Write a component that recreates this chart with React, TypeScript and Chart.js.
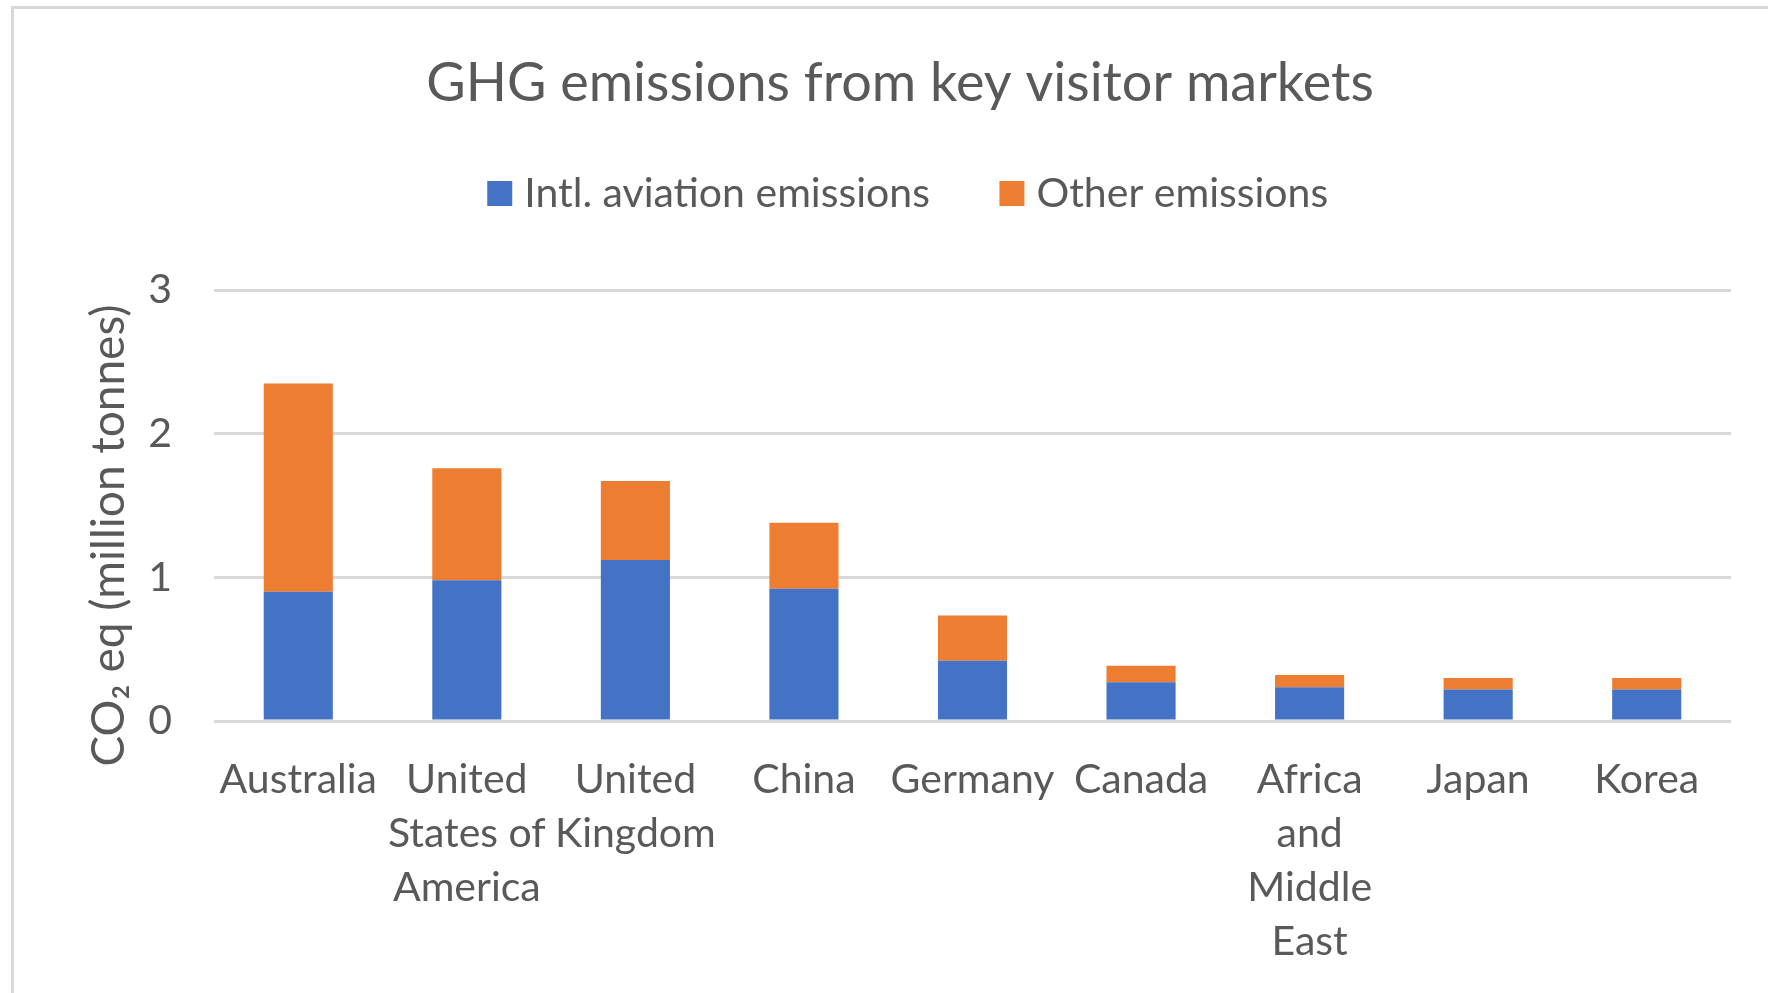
import React, { useEffect, useRef } from "react";
import { Chart, registerables } from "chart.js";

Chart.register(...registerables);

const categories: string[][] = [
  ["Australia"],
  ["United", "States of", "America"],
  ["United", "Kingdom"],
  ["China"],
  ["Germany"],
  ["Canada"],
  ["Africa", "and", "Middle", "East"],
  ["Japan"],
  ["Korea"],
];
const aviationEmissions = [0.9, 0.98, 1.12, 0.92, 0.42, 0.27, 0.235, 0.22, 0.22];
const otherEmissions = [1.45, 0.78, 0.55, 0.46, 0.315, 0.115, 0.085, 0.08, 0.08];
const seriesNames = ["Intl. aviation emissions", "Other emissions"];
const yTickValues = [0, 1, 2, 3];
const chartTitle = "GHG emissions from key visitor markets";
const yAxisTitle = "CO\u2082 eq (million tonnes)";

const FONT = "Lato, 'Noto Sans', sans-serif";
const TEXT = "#595959";

const legendSpacer = {
  id: "legendSpacer",
  beforeInit(chart: any) {
    const legend = chart.legend;
    if (!legend) return;
    const orig = legend.fit;
    legend.fit = function () {
      orig.bind(legend)();
      this.height += 66;
    };
  },
  afterLayout(chart: any) {
    const legend = chart.legend;
    if (!legend) return;
    legend.left += 12;
    legend.right += 12;
  },
};

const yTitlePlugin = {
  id: "yTitlePlugin",
  afterDraw(chart: any) {
    const { ctx, chartArea } = chart;
    ctx.save();
    ctx.translate(chartArea.left - 105, (chartArea.top + chartArea.bottom) / 2 + 30);
    ctx.rotate(-Math.PI / 2);
    ctx.font = `46px ${FONT}`;
    ctx.fillStyle = TEXT;
    ctx.textAlign = "center";
    ctx.textBaseline = "middle";
    ctx.fillText(yAxisTitle, 0, 0);
    ctx.restore();
  },
};

export default function App() {
  const ref = useRef<HTMLCanvasElement | null>(null);

  useEffect(() => {
    if (!ref.current) return;
    const chart = new Chart(ref.current, {
      type: "bar",
      data: {
        labels: categories,
        datasets: [
          {
            label: seriesNames[0],
            data: aviationEmissions,
            backgroundColor: "#4472C4",
            categoryPercentage: 1,
            barPercentage: 0.41,
          },
          {
            label: seriesNames[1],
            data: otherEmissions,
            backgroundColor: "#ED7D31",
            categoryPercentage: 1,
            barPercentage: 0.41,
          },
        ],
      },
      options: {
        responsive: false,
        animation: false,
        devicePixelRatio: 1,
        layout: { padding: { left: 55, right: 55, top: 0, bottom: 26 } },
        plugins: {
          title: {
            display: true,
            text: chartTitle,
            color: TEXT,
            font: { family: FONT, size: 54, weight: "normal", lineHeight: 1 },
            padding: { top: 48, bottom: -16 },
          },
          legend: {
            display: true,
            position: "top",
            labels: {
              usePointStyle: true,
              pointStyle: "rect",
              boxWidth: 8,
              boxHeight: 25,
              padding: 78,
              color: TEXT,
              font: { family: FONT, size: 41 },
            },
          },
          tooltip: { enabled: false },
        },
        scales: {
          x: {
            stacked: true,
            grid: { display: false, drawTicks: false },
            border: { display: false },
            afterFit: (axis: any) => {
              axis.paddingLeft = 0;
              axis.paddingRight = 0;
            },
            ticks: {
              color: TEXT,
              font: { family: FONT, size: 41, lineHeight: 1.317 },
              padding: 32,
              autoSkip: false,
              maxRotation: 0,
              minRotation: 0,
            },
          },
          y: {
            stacked: true,
            min: 0,
            max: 3,
            afterBuildTicks: (axis: any) => {
              axis.ticks = yTickValues.map((v) => ({ value: v }));
            },
            afterFit: (axis: any) => {
              axis.width = 145;
            },
            grid: { color: "#d9d9d9", lineWidth: 3, drawTicks: false },
            border: { display: false },
            ticks: {
              color: TEXT,
              font: { family: FONT, size: 41 },
              padding: 42,
              stepSize: 1,
            },
          },
        },
      },
      plugins: [legendSpacer, yTitlePlugin],
    });
    return () => chart.destroy();
  }, []);

  return (
    <div
      style={{
        position: "fixed",
        left: 0,
        top: 0,
        width: 1768,
        height: 993,
        overflow: "hidden",
        background: "#ffffff",
      }}
    >
      <div
        style={{
          position: "absolute",
          left: 11,
          top: 6,
          width: 1800,
          height: 1040,
          borderLeft: "3px solid #d9d9d9",
          borderTop: "3px solid #d9d9d9",
        }}
      >
        <canvas
          ref={ref}
          width={1772}
          height={1018}
          style={{ position: "absolute", left: 0, top: 0, width: 1772, height: 1018 }}
        />
      </div>
    </div>
  );
}
